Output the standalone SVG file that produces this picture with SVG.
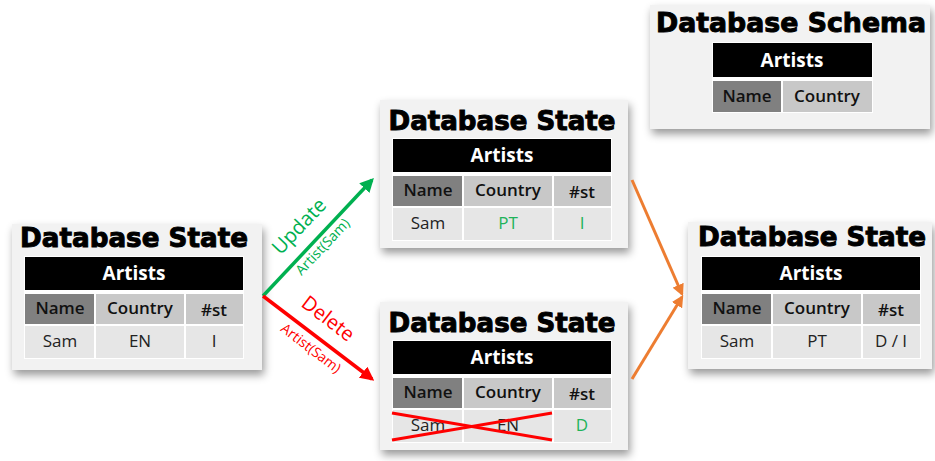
<svg xmlns="http://www.w3.org/2000/svg" xmlns:xlink="http://www.w3.org/1999/xlink" width="935" height="461" viewBox="0 0 935 461">
<defs>
<filter id="sh" x="-10%" y="-10%" width="125%" height="135%">
<feDropShadow dx="2" dy="5" stdDeviation="4" flood-color="#000" flood-opacity="0.4"/>
</filter>
<marker id="ag" viewBox="0 0 10 10" refX="8" refY="5" markerWidth="4" markerHeight="4" orient="auto" markerUnits="strokeWidth"><path d="M0,0 L10,5 L0,10 z" fill="#00b050"/></marker>
<marker id="ar" viewBox="0 0 10 10" refX="8" refY="5" markerWidth="4" markerHeight="4" orient="auto" markerUnits="strokeWidth"><path d="M0,0 L10,5 L0,10 z" fill="#ff0000"/></marker>
<marker id="ao" viewBox="0 0 10 10" refX="8" refY="5" markerWidth="4" markerHeight="4" orient="auto" markerUnits="strokeWidth"><path d="M0,0 L10,5 L0,10 z" fill="#ed7d31"/></marker>
<g id="tbl">
<rect x="-1" y="-1" width="220" height="103" fill="#fff"/>
<rect x="0" y="0" width="218" height="33" fill="#000"/>
<rect x="0" y="37" width="69" height="30" fill="#808080"/>
<rect x="71" y="37" width="88" height="30" fill="#c8c8c8"/>
<rect x="161" y="37" width="57" height="30" fill="#c8c8c8"/>
<rect x="0" y="69" width="69" height="32" fill="#e6e6e6"/>
<rect x="71" y="69" width="88" height="32" fill="#e6e6e6"/>
<rect x="161" y="69" width="57" height="32" fill="#e6e6e6"/>
</g>
</defs>
<style>
.panel{fill:#f2f2f2;filter:url(#sh)}
.title{font-family:"DejaVu Sans",sans-serif;font-weight:bold;font-size:27px;fill:#000;stroke:#000;stroke-width:1;text-anchor:middle}
.art{font-family:"Open Sans","Noto Sans",sans-serif;font-weight:700;font-size:19px;fill:#fff;text-anchor:middle}
.hd{font-family:"Open Sans","Noto Sans",sans-serif;font-weight:600;font-size:17px;fill:#111;text-anchor:middle}
.dt{font-family:"Open Sans","Noto Sans",sans-serif;font-weight:400;font-size:17px;fill:#222;text-anchor:middle}
.gr{fill:#1fb35a}
.lbl{font-family:"Open Sans","Noto Sans",sans-serif;text-anchor:middle}
</style>
<rect width="935" height="461" fill="#fff"/>

<g id="schema">
<rect class="panel" x="650" y="5" width="280" height="124"/>
<text class="title" x="791" y="32" textLength="270" lengthAdjust="spacingAndGlyphs">Database Schema</text>
<rect x="712" y="42" width="161" height="71" fill="#fff"/>
<rect x="713" y="43" width="159" height="34" fill="#000"/>
<rect x="713" y="81" width="68" height="31" fill="#808080"/>
<rect x="783" y="81" width="89" height="31" fill="#c8c8c8"/>
<text class="art" x="792" y="67">Artists</text>
<text class="hd" x="747" y="102">Name</text>
<text class="hd" x="827" y="102">Country</text>
</g>

<g id="state-initial">
<rect class="panel" x="12" y="224" width="250" height="146"/>
<text class="title" x="134" y="247" textLength="228" lengthAdjust="spacingAndGlyphs">Database State</text>
<use xlink:href="#tbl" x="25" y="257"/>
<text class="art" x="134" y="280">Artists</text>
<text class="hd" x="60" y="314">Name</text>
<text class="hd" x="140" y="314">Country</text>
<text class="hd" x="214" y="316">#st</text>
<text class="dt" x="60" y="347">Sam</text>
<text class="dt" x="140" y="347">EN</text>
<text class="dt" x="214" y="347">I</text>
</g>

<g id="state-update">
<rect class="panel" x="380" y="100" width="248" height="148"/>
<text class="title" x="502" y="130" textLength="227" lengthAdjust="spacingAndGlyphs">Database State</text>
<use xlink:href="#tbl" x="393" y="139"/>
<text class="art" x="502" y="162">Artists</text>
<text class="hd" x="428" y="196">Name</text>
<text class="hd" x="508" y="196">Country</text>
<text class="hd" x="582" y="198">#st</text>
<text class="dt" x="428" y="229">Sam</text>
<text class="dt gr" x="508" y="229">PT</text>
<text class="dt gr" x="582" y="229">I</text>
</g>

<g id="state-delete">
<rect class="panel" x="380" y="302" width="248" height="148"/>
<text class="title" x="502" y="332" textLength="227" lengthAdjust="spacingAndGlyphs">Database State</text>
<use xlink:href="#tbl" x="393" y="341"/>
<text class="art" x="502" y="364">Artists</text>
<text class="hd" x="428" y="398">Name</text>
<text class="hd" x="508" y="398">Country</text>
<text class="hd" x="582" y="400">#st</text>
<text class="dt" x="428" y="431">Sam</text>
<text class="dt" x="508" y="431">EN</text>
<text class="dt gr" x="582" y="431">D</text>
<line x1="392" y1="413" x2="552" y2="440" stroke="#ff0000" stroke-width="3"/>
<line x1="392" y1="440" x2="552" y2="413" stroke="#ff0000" stroke-width="3"/>
</g>

<g id="state-merged">
<rect class="panel" x="688" y="222" width="244" height="147"/>
<text class="title" x="812" y="246" textLength="228" lengthAdjust="spacingAndGlyphs">Database State</text>
<use xlink:href="#tbl" x="702" y="257"/>
<text class="art" x="811" y="280">Artists</text>
<text class="hd" x="737" y="314">Name</text>
<text class="hd" x="817" y="314">Country</text>
<text class="hd" x="891" y="316">#st</text>
<text class="dt" x="737" y="347">Sam</text>
<text class="dt" x="817" y="347">PT</text>
<text class="dt" x="891" y="347">D / I</text>
</g>

<g id="connectors">
<line x1="263" y1="296" x2="372" y2="180" stroke="#00b050" stroke-width="3.5" marker-end="url(#ag)"/>
<line x1="263" y1="296" x2="372" y2="379" stroke="#ff0000" stroke-width="3.5" marker-end="url(#ar)"/>
<line x1="632" y1="180" x2="682" y2="294" stroke="#ed7d31" stroke-width="3" marker-end="url(#ao)"/>
<line x1="632" y1="379" x2="682" y2="297" stroke="#ed7d31" stroke-width="3" marker-end="url(#ao)"/>
<text class="lbl" font-size="20" fill="#00b050" transform="translate(304,231) rotate(-46.5)">Update</text>
<text class="lbl" font-size="14" fill="#00b050" transform="translate(326,250) rotate(-46.5)">Artist(Sam)</text>
<text class="lbl" font-size="20" fill="#ff0000" transform="translate(324,324) rotate(37.5)">Delete</text>
<text class="lbl" font-size="14" fill="#ff0000" transform="translate(308,352) rotate(37.5)">Artist(Sam)</text>
</g>
</svg>
